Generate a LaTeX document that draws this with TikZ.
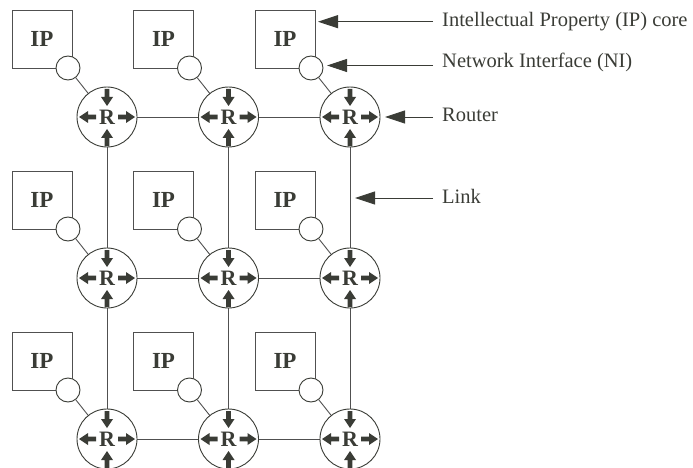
\documentclass[tikz,border=0pt]{standalone}
\usepackage{fontspec}
\setmainfont{Liberation Serif}
\usetikzlibrary{arrows.meta}
\definecolor{ink}{HTML}{3A3C36}
\definecolor{wire}{HTML}{505050}
\tikzset{
  routernode/.style={circle,draw=ink,line width=0.9pt,fill=white,minimum size=60pt,inner sep=0pt},
  ipbox/.style={rectangle,draw=wire,line width=0.9pt,fill=white,minimum width=60pt,minimum height=58pt,inner sep=0pt,
    font=\fontsize{23}{23}\selectfont\bfseries,text=ink},
  nicircle/.style={circle,draw=ink,line width=0.9pt,fill=white,minimum size=24pt,inner sep=0pt},
  linkline/.style={draw=wire,line width=0.9pt},
  labeltext/.style={anchor=base west,inner sep=0pt,font=\fontsize{20.5}{24}\selectfont,text=ink},
  pointer/.style={draw=wire,line width=0.9pt,-{Triangle[length=20pt,width=13pt]},color=ink},
  rarrow/.style={fill=ink,draw=none},
  rlabel/.style={inner sep=0pt,font=\fontsize{22}{22}\selectfont\bfseries,text=ink},
}
\begin{document}
\begin{tikzpicture}[x=1pt,y=-1pt]
\useasboundingbox (0,0) rectangle (693,468);

% IP cores, network interfaces and their attachment lines
\foreach \i in {1,2,3}{
  \foreach \j in {1,2,3}{
    \pgfmathsetmacro{\rx}{107+121.5*(\i-1)}
    \pgfmathsetmacro{\ry}{117+161*(\j-1)}
    \node[ipbox] (ip-\i-\j) at (\rx-65,\ry-78) {IP};
    \node[nicircle] (ni-\i-\j) at (\rx-39,\ry-49) {};
    \draw[linkline] (ni-\i-\j) -- (\rx,\ry);
  }
}
% mesh links
\foreach \j in {1,2,3}{
  \pgfmathsetmacro{\ry}{117+161*(\j-1)}
  \draw[linkline] (107,\ry) -- (350,\ry);
}
\foreach \i in {1,2,3}{
  \pgfmathsetmacro{\rx}{107+121.5*(\i-1)}
  \draw[linkline] (\rx,117) -- (\rx,470);
}
% router discs with their port arrows
\foreach \i in {1,2,3}{
  \foreach \j in {1,2,3}{
    \pgfmathsetmacro{\rx}{107+121.5*(\i-1)}
    \pgfmathsetmacro{\ry}{117+161*(\j-1)}
    \node[routernode] (r-\i-\j) at (\rx,\ry) {};
    \begin{scope}[shift={(r-\i-\j.center)}]
      % top: pointing in (down)
      \fill[rarrow] (-2.4,-28) -- (2.4,-28) -- (2.4,-20) -- (6,-20) -- (0,-11) -- (-6,-20) -- (-2.4,-20) -- cycle;
      % bottom: pointing in (up)
      \fill[rarrow] (-2.4,29) -- (2.4,29) -- (2.4,21) -- (6,21) -- (0,12) -- (-6,21) -- (-2.4,21) -- cycle;
      % left: pointing out
      \fill[rarrow] (-11,-2.4) -- (-11,2.4) -- (-19,2.4) -- (-19,6) -- (-28,0) -- (-19,-6) -- (-19,-2.4) -- cycle;
      % right: pointing out
      \fill[rarrow] (11,-2.4) -- (11,2.4) -- (19,2.4) -- (19,6) -- (28,0) -- (19,-6) -- (19,-2.4) -- cycle;
    \end{scope}
    \node[rlabel] (rl-\i-\j) at (\rx,\ry) {R};
  }
}

% legend
\node[labeltext] (lbl-ip) at (442,26.5) {Intellectual Property (IP) core};
\node[labeltext] (lbl-ni) at (442,68) {Network Interface (NI)};
\node[labeltext] (lbl-r)  at (442,121.5) {Router};
\node[labeltext] (lbl-l)  at (442,203) {Link};
\coordinate (t-ip) at (318,21.7);
\coordinate (t-ni) at (327,65.5);
\coordinate (t-r)  at (385,117);
\coordinate (t-l)  at (355,198);
\draw[pointer] (433,21.7) -- (t-ip);
\draw[pointer] (433,65.5) -- (t-ni);
\draw[pointer] (433,117) -- (t-r);
\draw[pointer] (433,198) -- (t-l);
\end{tikzpicture}
\end{document}
